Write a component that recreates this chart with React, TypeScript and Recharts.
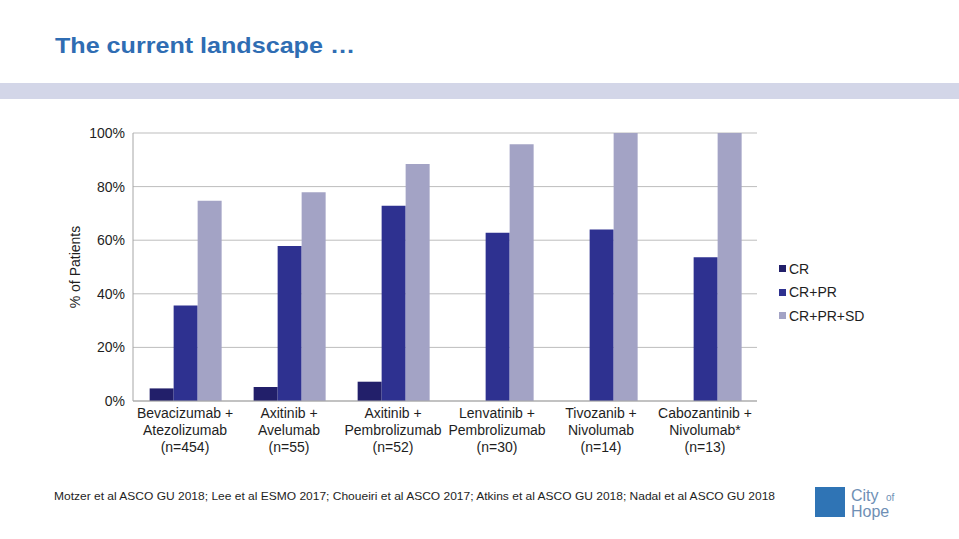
import React from 'react';
import { Bar, BarChart, CartesianGrid, XAxis, YAxis } from 'recharts';

const drugLine1 = ['Bevacizumab +', 'Axitinib +', 'Axitinib +', 'Lenvatinib +', 'Tivozanib +', 'Cabozantinib +'];
const drugLine2 = ['Atezolizumab', 'Avelumab', 'Pembrolizumab', 'Pembrolizumab', 'Nivolumab', 'Nivolumab*'];
const sampleSizes = ['(n=454)', '(n=55)', '(n=52)', '(n=30)', '(n=14)', '(n=13)'];

const crValues = [4.7, 5.2, 7.2, null, null, null];
const crPrValues = [35.6, 57.8, 72.9, 62.8, 64, 53.6];
const crPrSdValues = [74.7, 77.9, 88.4, 95.8, 100, 100];

const yTicks = [0, 20, 40, 60, 80, 100];

const seriesNames = ['CR', 'CR+PR', 'CR+PR+SD'];
const seriesColors = ['#221f6a', '#2e3190', '#a3a3c5'];

const data = drugLine1.map((line1, i) => ({
  name: `${line1} ${drugLine2[i]} ${sampleSizes[i]}`,
  line1,
  line2: drugLine2[i],
  n: sampleSizes[i],
  cr: crValues[i],
  crPr: crPrValues[i],
  crPrSd: crPrSdValues[i],
}));

const FONT = '"Liberation Sans", Arial, sans-serif';

const CategoryTick = ({ x, y, index }: any) => {
  const row = data[index];
  if (!row) return null;
  return (
    <g transform={`translate(${x},${y})`}>
      <text x={0} y={9} textAnchor="middle" fontSize={14} fill="#1e1e1e" fontFamily={FONT}>
        {row.line1}
      </text>
      <text x={0} y={26} textAnchor="middle" fontSize={14} fill="#1e1e1e" fontFamily={FONT}>
        {row.line2}
      </text>
      <text x={0} y={43} textAnchor="middle" fontSize={14} fill="#1e1e1e" fontFamily={FONT}>
        {row.n}
      </text>
    </g>
  );
};

const LegendList = () => (
  <div style={{ position: 'absolute', left: 779, top: 257, fontFamily: FONT, fontSize: 14, color: '#1e1e1e' }}>
    {seriesNames.map((name, i) => (
      <div key={name} style={{ display: 'flex', alignItems: 'center', height: 23.5 }}>
        <span
          style={{
            display: 'inline-block',
            width: 7,
            height: 7,
            background: seriesColors[i],
            marginRight: 3,
          }}
        />
        <span>{name}</span>
      </div>
    ))}
  </div>
);

export default function App() {
  return (
    <div style={{ position: 'absolute', left: 0, top: 0, width: 959, height: 539, background: '#fff', overflow: 'hidden' }}>
      <svg width={959} height={539} style={{ position: 'absolute', left: 0, top: 0 }}>
        <text
          x={55}
          y={53}
          fontSize={22}
          fontWeight="bold"
          fill="#2f6db3"
          fontFamily={FONT}
          textLength={300}
          lengthAdjust="spacingAndGlyphs"
        >
          The current landscape …
        </text>
        <rect x={0} y={83} width={959} height={16} fill="#d3d6e8" />
        <text
          x={54}
          y={500}
          fontSize={11}
          fill="#1e1e1e"
          fontFamily={FONT}
          textLength={721}
          lengthAdjust="spacingAndGlyphs"
        >
          Motzer et al ASCO GU 2018; Lee et al ESMO 2017; Choueiri et al ASCO 2017; Atkins et al ASCO GU 2018; Nadal et al ASCO GU 2018
        </text>
        <rect x={815} y={487} width={30} height={30} fill="#2f74b5" />
        <text x={851} y={501} fontSize={16} fill="#6f8fb5" fontFamily={FONT}>
          City
        </text>
        <text x={886} y={501} fontSize={10} fill="#6f8fb5" fontFamily={FONT}>
          of
        </text>
        <text x={851} y={517} fontSize={16} fill="#6f8fb5" fontFamily={FONT}>
          Hope
        </text>
      </svg>
      <div style={{ position: 'absolute', left: 0, top: 0 }}>
        <BarChart
          width={959}
          height={539}
          data={data}
          margin={{ top: 133, right: 202, left: 73, bottom: 78 }}
          barCategoryGap="16%"
          barGap={0}
        >
          <CartesianGrid horizontal vertical={false} stroke="#bdbdbd" />
          <XAxis
            dataKey="name"
            height={60}
            interval={0}
            tick={<CategoryTick />}
            tickLine={false}
            axisLine={{ stroke: '#a6a6a6' }}
          />
          <YAxis
            width={60}
            domain={[0, 100]}
            ticks={yTicks}
            tickFormatter={(v: number) => `${v}%`}
            tickLine={false}
            axisLine={{ stroke: '#a6a6a6' }}
            tick={{ fontSize: 14, fill: '#1e1e1e', fontFamily: FONT }}
            label={{
              value: '% of Patients',
              angle: -90,
              position: 'insideLeft',
              offset: 2,
              style: { textAnchor: 'middle', fontSize: 14, fill: '#1e1e1e', fontFamily: FONT },
            }}
          />
          <Bar dataKey="cr" name={seriesNames[0]} fill={seriesColors[0]} isAnimationActive={false} />
          <Bar dataKey="crPr" name={seriesNames[1]} fill={seriesColors[1]} isAnimationActive={false} />
          <Bar dataKey="crPrSd" name={seriesNames[2]} fill={seriesColors[2]} isAnimationActive={false} />
        </BarChart>
      </div>
      <LegendList />
    </div>
  );
}
